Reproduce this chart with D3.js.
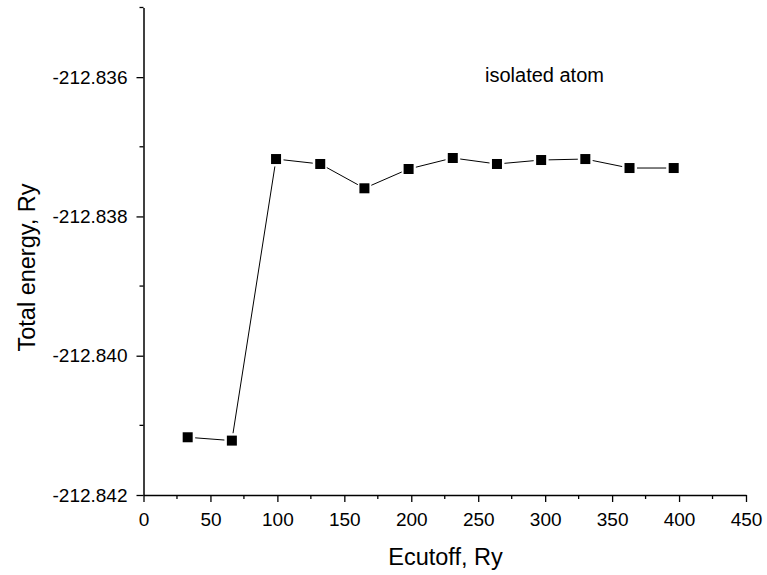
<!DOCTYPE html>
<html>
<head>
<meta charset="utf-8">
<script src="https://cdn.jsdelivr.net/npm/d3@7"></script>
<style>
  html, body { margin: 0; padding: 0; background: #fff; }
  svg text { font-family: Arial, "Liberation Sans", sans-serif; fill: #000; }
</style>
</head>
<body>
<svg id="chart" width="767" height="575"></svg>
<script>
// Plane-wave cutoff convergence for the isolated atom
const cutoffs = [33, 66, 99, 132, 165, 198, 231, 264, 297, 330, 363, 396];
const energies = [-212.841171, -212.841219, -212.837176, -212.837247, -212.837596, -212.837319,
                  -212.837161, -212.837247, -212.837190, -212.837176, -212.837305, -212.837305];
const xTicks = [0, 50, 100, 150, 200, 250, 300, 350, 400, 450];
const yTicks = [-212.842, -212.840, -212.838, -212.836];

const svg = d3.select("#chart");
const margin = { left: 143.5, right: 21, top: 7.5, bottom: 80 };
const W = 767, H = 575;

const x = d3.scaleLinear().domain([0, 450]).range([margin.left, W - margin.right]);
const y = d3.scaleLinear().domain([-212.842, -212.835]).range([H - margin.bottom, margin.top]);

const fmtY = v => d3.format(".3f")(v).replace("−", "-");

// minor ticks
const xMinor = d3.range(25, 450, 50);
const yMinor = [-212.841, -212.839, -212.837, -212.835];

const gx = svg.append("g").attr("transform", `translate(0,${y(-212.842)})`);
gx.call(d3.axisBottom(x).tickValues(xTicks).tickSize(7).tickPadding(11).tickSizeOuter(0).tickFormat(d3.format("d")));
gx.append("g").selectAll("line").data(xMinor).join("line")
  .attr("x1", d => x(d)).attr("x2", d => x(d)).attr("y1", 0).attr("y2", 4)
  .attr("stroke", "#000").attr("stroke-width", 1.3);

const gy = svg.append("g").attr("transform", `translate(${x(0)},0)`);
gy.call(d3.axisLeft(y).tickValues(yTicks).tickSize(7).tickPadding(9).tickSizeOuter(0).tickFormat(fmtY));
gy.append("g").selectAll("line").data(yMinor).join("line")
  .attr("y1", d => y(d)).attr("y2", d => y(d)).attr("x1", 0).attr("x2", -4)
  .attr("stroke", "#000").attr("stroke-width", 1.3);

[gx, gy].forEach(g => {
  g.attr("font-size", 19).attr("font-family", "Arial, 'Liberation Sans', sans-serif");
  g.selectAll(".domain").attr("stroke", "#000").attr("stroke-width", 1.5);
  g.selectAll(".tick line").attr("stroke", "#000").attr("stroke-width", 1.3);
  g.selectAll(".tick text").attr("fill", "#000");
});

// connecting line segments, drawn with a gap around each symbol
const pts = cutoffs.map((c, i) => [x(c), y(energies[i])]);
const gap = 7.5;
const segs = d3.pairs(pts).map(([a, b]) => {
  const dx = b[0] - a[0], dy = b[1] - a[1];
  const len = Math.hypot(dx, dy);
  const ux = dx / len, uy = dy / len;
  return [a[0] + ux * gap, a[1] + uy * gap, b[0] - ux * gap, b[1] - uy * gap];
});
svg.append("g").selectAll("line").data(segs).join("line")
  .attr("x1", d => d[0]).attr("y1", d => d[1]).attr("x2", d => d[2]).attr("y2", d => d[3])
  .attr("stroke", "#000").attr("stroke-width", 1);

// square symbols
const s = 10;
svg.append("g").selectAll("rect").data(cutoffs).join("rect")
  .attr("x", (d, i) => x(d) - s / 2).attr("y", (d, i) => y(energies[i]) - s / 2)
  .attr("width", s).attr("height", s).attr("fill", "#000");

// annotation and axis titles
svg.append("text").attr("x", 485).attr("y", 82).attr("font-size", 20).text("isolated atom");
svg.append("text").attr("x", 445.5).attr("y", 565).attr("text-anchor", "middle")
  .attr("font-size", 23.5).text("Ecutoff, Ry");
svg.append("text").attr("transform", `translate(35,267.5) rotate(-90)`).attr("text-anchor", "middle")
  .attr("font-size", 23.5).text("Total energy, Ry");
</script>
</body>
</html>
